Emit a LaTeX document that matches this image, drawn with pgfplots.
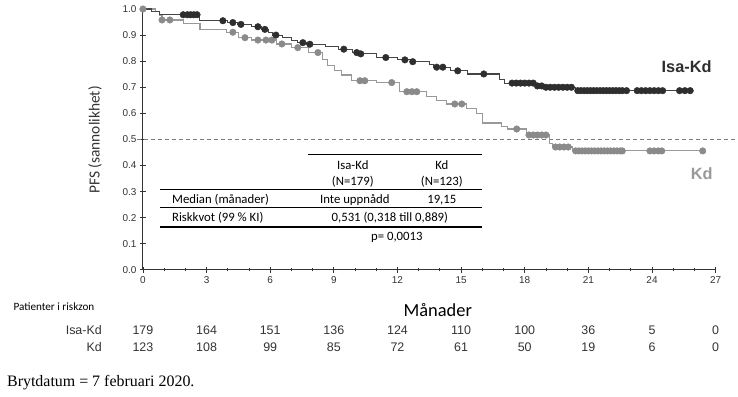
\documentclass[border=0pt]{standalone}
\usepackage{fontspec}
\setmainfont{Liberation Sans}
\newfontfamily\carlito{Carlito}
\newfontfamily\serifff{Liberation Serif}
\usepackage{pgfplots}
\pgfplotsset{compat=1.18}
\definecolor{isa}{HTML}{2E2E2E}
\definecolor{isaline}{HTML}{454545}
\definecolor{kd}{HTML}{8A8A8A}
\definecolor{kdline}{HTML}{999999}
\definecolor{axc}{HTML}{333333}
\begin{document}
\begin{tikzpicture}
\begin{axis}[
  scale only axis, width=573bp, height=261bp,
  xmin=0, xmax=27, ymin=0, ymax=1,
  axis x line*=bottom, axis y line*=left,
  axis line style={line width=0.9pt, color=axc},
  xtick={0,3,...,27}, minor xtick={1,2,4,5,7,8,10,11,13,14,16,17,19,20,22,23,25,26},
  ytick={0,0.1,0.2,0.3,0.4,0.5,0.6,0.7,0.8,0.9,1.0},
  tick align=center,
  major tick length=6bp, minor tick length=3bp,
  tick style={axc, line width=0.8pt},
  ticklabel style={font=\fontsize{10}{12}\selectfont, text=axc},
  /pgf/number format/assume math mode=true,
  yticklabel style={/pgf/number format/.cd, fixed, fixed zerofill, precision=1},
  xticklabel style={/pgf/number format/.cd, fixed, precision=0},
  clip=false,
]
% bounding frame (invisible)
\path (axis cs:-6.738,1.0345) rectangle (axis cs:28.037,-0.4866);

% median line
\draw[kd!90!black, line width=1pt, dash pattern=on 4bp off 3bp] (axis cs:-0.3,0.5) -- (axis cs:28.03,0.5);

% Kd curve
\addplot[const plot, kdline, line width=1.1pt] coordinates {
(0,1)(0.6,0.99)(0.8,0.977)(0.9,0.958)(1.9,0.945)(2.69,0.92)(3.96,0.911)(4.5,0.89)(5.1,0.881)(6.3,0.866)(7.0,0.852)(7.8,0.833)(8.45,0.805)(8.72,0.785)(9.05,0.766)(9.38,0.747)(9.85,0.725)(11.03,0.718)(12.11,0.683)(13.38,0.664)(13.85,0.651)(14.3,0.636)(15.27,0.62)(15.74,0.60)(16.02,0.563)(16.9,0.55)(17.2,0.54)(18.1,0.517)(19.18,0.486)(19.3,0.471)(20.26,0.456)(26.39,0.456)};
\addplot[only marks, mark=*, mark size=3.3bp, kd, mark options={draw=kd, fill=kd}] coordinates {
(0,1)(0.9,0.958)(1.27,0.958)(4.24,0.911)(4.81,0.89)(5.42,0.881)(5.8,0.881)(6.08,0.881)(6.55,0.866)(7.3,0.852)(8.25,0.833)(10.23,0.725)(10.46,0.725)(11.73,0.718)(12.44,0.683)(12.68,0.683)(12.91,0.683)(14.70,0.636)(15.03,0.636)(17.62,0.54)
(18.2,0.517)(18.4,0.517)(18.6,0.517)(18.8,0.517)(19.0,0.517)
(19.45,0.471)(19.65,0.471)(19.85,0.471)(20.05,0.471)
(20.4,0.456)(20.55,0.456)(20.7,0.456)(20.85,0.456)(21.0,0.456)(21.15,0.456)(21.3,0.456)(21.45,0.456)(21.6,0.456)(21.75,0.456)(21.9,0.456)(22.05,0.456)(22.2,0.456)(22.35,0.456)(22.5,0.456)(22.6,0.456)
(23.9,0.456)(24.1,0.456)(24.3,0.456)(24.46,0.456)(26.39,0.456)};

% Isa-Kd curve
\addplot[const plot, isaline, line width=1.1pt] coordinates {
(0,1)(0.4,0.989)(0.8,0.978)(2.65,0.955)(4.0,0.948)(4.45,0.941)(5.1,0.932)(5.6,0.922)(5.9,0.911)(6.1,0.900)(6.6,0.89)(7.0,0.88)(7.3,0.871)(7.7,0.865)(8.6,0.856)(9.2,0.846)(9.9,0.833)(10.2,0.828)(11.0,0.814)(12.0,0.805)(12.6,0.798)(13.5,0.787)(13.7,0.777)(14.5,0.763)(15.3,0.751)(16.8,0.73)(17.05,0.716)(18.5,0.705)(18.9,0.70)(20.4,0.687)(25.8,0.687)};
\addplot[only marks, mark=*, mark size=3.3bp, isa, mark options={draw=isa, fill=isa}] coordinates {
(1.9,0.978)(2.1,0.978)(2.25,0.978)(2.4,0.978)(2.55,0.978)
(3.77,0.955)(4.24,0.948)(4.62,0.941)(5.42,0.932)(5.75,0.922)(6.27,0.900)(7.54,0.871)(7.87,0.865)
(9.47,0.846)(10.08,0.833)(10.27,0.828)(11.45,0.814)(12.35,0.805)(12.72,0.798)(13.85,0.777)(14.14,0.777)(14.84,0.763)(16.07,0.751)
(17.4,0.716)(17.6,0.716)(17.8,0.716)(18.0,0.716)(18.2,0.716)(18.4,0.716)
(18.6,0.705)(18.8,0.705)
(19.0,0.70)(19.2,0.70)(19.4,0.70)(19.6,0.70)(19.8,0.70)(20.0,0.70)(20.2,0.70)
(20.5,0.687)(20.65,0.687)(20.8,0.687)(20.95,0.687)(21.1,0.687)(21.25,0.687)(21.4,0.687)(21.55,0.687)(21.7,0.687)(21.85,0.687)(22.0,0.687)(22.15,0.687)(22.3,0.687)(22.45,0.687)(22.6,0.687)(22.8,0.687)
(23.3,0.687)(23.5,0.687)(23.7,0.687)(23.9,0.687)(24.1,0.687)(24.3,0.687)(24.5,0.687)
(25.3,0.687)(25.55,0.687)(25.8,0.687)};

% series labels
\node[font=\bfseries\fontsize{16.4}{18}\selectfont, text=isa] at (axis cs:25.63,0.778) {Isa-Kd};
\node[font=\bfseries\fontsize{16.4}{18}\selectfont, text=kdline] at (axis cs:26.34,0.368) {Kd};

% y label
\node[rotate=90, font=\carlito\fontsize{15.5}{18}\selectfont, text=axc] at (axis cs:-2.26,0.498) {PFS (sannolikhet)};
% x label
\node[font=\carlito\fontsize{18.5}{20}\selectfont, text=black] at (axis cs:13.9,-0.155) {Månader};

% inner table
\draw[black, line width=1.1pt] (axis cs:7.775,0.4406) -- (axis cs:15.97,0.4406);
\draw[black, line width=1.1pt] (axis cs:0.80,0.3065) -- (axis cs:15.97,0.3065);
\draw[black, line width=0.9pt] (axis cs:0.80,0.2375) -- (axis cs:15.97,0.2375);
\draw[black, line width=1.5pt] (axis cs:0.80,0.1648) -- (axis cs:15.97,0.1648);
\node[font=\carlito\fontsize{12.8}{14}\selectfont, inner sep=0pt] at (axis cs:9.895,0.4023) {Isa-Kd};
\node[font=\carlito\fontsize{12.8}{14}\selectfont, inner sep=0pt] at (axis cs:9.895,0.337) {(N=179)};
\node[font=\carlito\fontsize{12.8}{14}\selectfont, inner sep=0pt] at (axis cs:14.09,0.4023) {Kd};
\node[font=\carlito\fontsize{12.8}{14}\selectfont, inner sep=0pt] at (axis cs:14.09,0.337) {(N=123)};
\node[font=\carlito\fontsize{12.8}{14}\selectfont, inner sep=0pt, anchor=west] at (axis cs:1.367,0.268) {Median (månader)};
\node[font=\carlito\fontsize{12.8}{14}\selectfont, inner sep=0pt] at (axis cs:9.99,0.268) {Inte uppnådd};
\node[font=\carlito\fontsize{12.8}{14}\selectfont, inner sep=0pt] at (axis cs:14.09,0.268) {19,15};
\node[font=\carlito\fontsize{12.8}{14}\selectfont, inner sep=0pt, anchor=west] at (axis cs:1.367,0.199) {Riskkvot (99 \% KI)};
\node[font=\carlito\fontsize{12.8}{14}\selectfont, inner sep=0pt] at (axis cs:11.64,0.199) {0,531 (0,318 till 0,889)};
\node[font=\carlito\fontsize{12.8}{14}\selectfont, inner sep=0pt] at (axis cs:11.97,0.126) {p= 0,0013};

% risk table
\node[anchor=west, inner sep=0pt, font=\carlito\fontsize{11.2}{13}\selectfont, text=black] at (axis cs:-6.11,-0.142) {Patienter i riskzon};
\node[anchor=east, inner sep=0pt, font=\fontsize{12.5}{14}\selectfont, text=axc] at (axis cs:-1.93,-0.230) {Isa-Kd};
\node[anchor=east, inner sep=0pt, font=\fontsize{12.5}{14}\selectfont, text=axc] at (axis cs:-1.93,-0.297) {Kd};
\node[font=\fontsize{12.5}{14}\selectfont, text=axc] at (axis cs:0,-0.230) {179};
\node[font=\fontsize{12.5}{14}\selectfont, text=axc] at (axis cs:3,-0.230) {164};
\node[font=\fontsize{12.5}{14}\selectfont, text=axc] at (axis cs:6,-0.230) {151};
\node[font=\fontsize{12.5}{14}\selectfont, text=axc] at (axis cs:9,-0.230) {136};
\node[font=\fontsize{12.5}{14}\selectfont, text=axc] at (axis cs:12,-0.230) {124};
\node[font=\fontsize{12.5}{14}\selectfont, text=axc] at (axis cs:15,-0.230) {110};
\node[font=\fontsize{12.5}{14}\selectfont, text=axc] at (axis cs:18,-0.230) {100};
\node[font=\fontsize{12.5}{14}\selectfont, text=axc] at (axis cs:21,-0.230) {36};
\node[font=\fontsize{12.5}{14}\selectfont, text=axc] at (axis cs:24,-0.230) {5};
\node[font=\fontsize{12.5}{14}\selectfont, text=axc] at (axis cs:27,-0.230) {0};
\node[font=\fontsize{12.5}{14}\selectfont, text=axc] at (axis cs:0,-0.297) {123};
\node[font=\fontsize{12.5}{14}\selectfont, text=axc] at (axis cs:3,-0.297) {108};
\node[font=\fontsize{12.5}{14}\selectfont, text=axc] at (axis cs:6,-0.297) {99};
\node[font=\fontsize{12.5}{14}\selectfont, text=axc] at (axis cs:9,-0.297) {85};
\node[font=\fontsize{12.5}{14}\selectfont, text=axc] at (axis cs:12,-0.297) {72};
\node[font=\fontsize{12.5}{14}\selectfont, text=axc] at (axis cs:15,-0.297) {61};
\node[font=\fontsize{12.5}{14}\selectfont, text=axc] at (axis cs:18,-0.297) {50};
\node[font=\fontsize{12.5}{14}\selectfont, text=axc] at (axis cs:21,-0.297) {19};
\node[font=\fontsize{12.5}{14}\selectfont, text=axc] at (axis cs:24,-0.297) {6};
\node[font=\fontsize{12.5}{14}\selectfont, text=axc] at (axis cs:27,-0.297) {0};

\node[anchor=west, inner sep=0pt, font=\serifff\fontsize{16}{18}\selectfont, text=black] at (axis cs:-6.41,-0.433) {Brytdatum = 7 februari 2020.};
\end{axis}
\end{tikzpicture}
\end{document}
